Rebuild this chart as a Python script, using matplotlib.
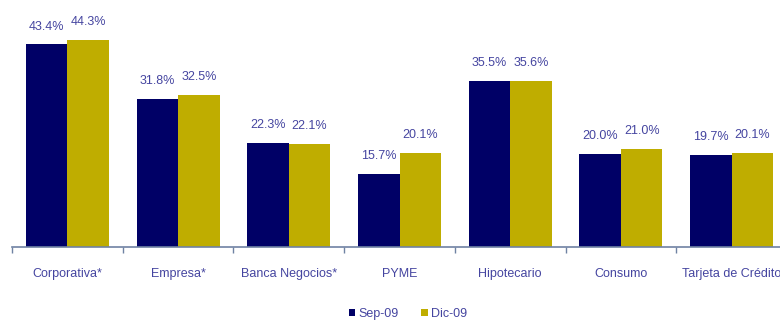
import matplotlib.pyplot as plt
import numpy as np

categories = ['Corporativa*', 'Empresa*', 'Banca Negocios*', 'PYME',
              'Hipotecario', 'Consumo', 'Tarjeta de Crédito']
sep09 = [43.4, 31.8, 22.3, 15.7, 35.5, 20.0, 19.7]
dic09 = [44.3, 32.5, 22.1, 20.1, 35.6, 21.0, 20.1]

plt.rcParams['font.family'] = ['Liberation Sans', 'DejaVu Sans']

txt_color = '#4545a0'
navy = '#000066'
gold = '#bfad00'

fig = plt.figure(figsize=(7.8, 3.2), dpi=100)
ax = fig.add_axes([12 / 780, 73 / 320, 775 / 780, 247 / 320])

x = np.arange(len(categories))
width = 0.375
r1 = ax.bar(x - width / 2, sep09, width, color=navy, label='Sep-09')
r2 = ax.bar(x + width / 2, dic09, width, color=gold, label='Dic-09')

for rects, vals in ((r1, sep09), (r2, dic09)):
    for r, v in zip(rects, vals):
        ax.annotate(f'{v:.1f}%', (r.get_x() + r.get_width() / 2, v),
                    xytext=(0, 8.5), textcoords='offset points',
                    ha='center', va='bottom', fontsize=9, color=txt_color)

ax.set_xlim(-0.5, len(categories) - 0.5)
ax.set_ylim(0, 52.9)
ax.set_yticks([])
for s in ('top', 'right', 'left'):
    ax.spines[s].set_visible(False)
ax.spines['bottom'].set_color('#6f82a3')
ax.spines['bottom'].set_linewidth(1.2)

# boundary ticks, labels on the category centres
ax.set_xticks(np.arange(len(categories) + 1) - 0.5)
ax.set_xticklabels([])
ax.tick_params(axis='x', which='major', length=4, color='#6f82a3', width=1)
ax.set_xticks(x, minor=True)
ax.set_xticklabels(categories, minor=True, fontsize=9, color=txt_color)
ax.tick_params(axis='x', which='minor', length=0, pad=15)

leg = fig.legend(loc='center', bbox_to_anchor=(408 / 780, 6 / 320), ncol=2,
                 frameon=False, fontsize=9, handlelength=0.5, handleheight=0.5,
                 handletextpad=0.3, columnspacing=1.8, labelcolor=txt_color)

fig.savefig('out.png', dpi=100)
